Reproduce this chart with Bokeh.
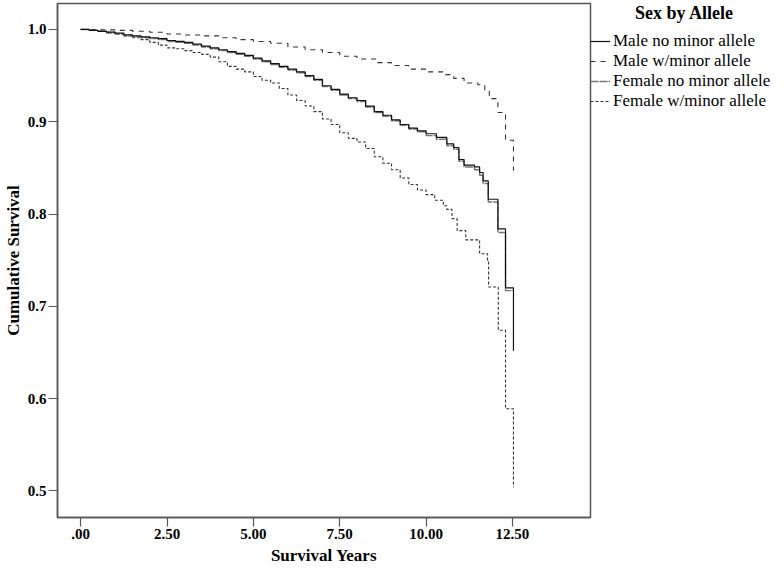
from bokeh.plotting import figure
from bokeh.models import Legend, LegendItem, Range1d, FixedTicker
from bokeh.embed import file_html
from bokeh.resources import INLINE

# ---- data (Kaplan-Meier step curves) ----
male_no_t = [0.0, 0.25, 0.5, 0.75, 1.0, 1.25, 1.5, 1.75, 2.0, 2.25, 2.5, 2.75, 3.0, 3.25, 3.5, 3.75, 4.0,
             4.25, 4.5, 4.75, 5.0, 5.25, 5.5, 5.75, 6.0, 6.25, 6.5, 6.75, 7.0, 7.25, 7.5, 7.75, 8.0, 8.25,
             8.5, 8.75, 9.0, 9.25, 9.5, 9.75, 10.0, 10.3, 10.6, 10.8, 10.95, 11.1, 11.4, 11.55, 11.65, 11.8,
             12.08, 12.3, 12.53]
male_no_s = [1.0, 0.999, 0.998, 0.997, 0.996, 0.994, 0.993, 0.992, 0.991, 0.990, 0.988, 0.987, 0.986, 0.984,
             0.982, 0.980, 0.978, 0.976, 0.974, 0.972, 0.969, 0.966, 0.963, 0.960, 0.957, 0.954, 0.950, 0.946,
             0.939, 0.935, 0.930, 0.926, 0.923, 0.917, 0.911, 0.907, 0.902, 0.897, 0.893, 0.890, 0.887, 0.883,
             0.876, 0.872, 0.859, 0.853, 0.851, 0.845, 0.836, 0.816, 0.784, 0.720, 0.652]

female_no_t = [0.0, 0.25, 0.5, 0.75, 1.0, 1.25, 1.5, 1.75, 2.0, 2.25, 2.5, 2.75, 3.0, 3.25, 3.5, 3.75, 4.0,
               4.25, 4.5, 4.75, 5.0, 5.25, 5.5, 5.75, 6.0, 6.25, 6.5, 6.75, 7.0, 7.25, 7.5, 7.75, 8.0, 8.25,
               8.5, 8.75, 9.0, 9.25, 9.5, 9.75, 10.0, 10.3, 10.6, 10.8, 10.95, 11.1, 11.4, 11.55, 11.65, 11.8,
               12.08, 12.3, 12.53]
female_no_s = [1.0, 0.999, 0.998, 0.996, 0.995, 0.993, 0.992, 0.991, 0.990, 0.989, 0.987, 0.986, 0.985, 0.983,
               0.981, 0.979, 0.977, 0.975, 0.973, 0.971, 0.968, 0.965, 0.962, 0.959, 0.956, 0.953, 0.949, 0.945,
               0.938, 0.934, 0.929, 0.925, 0.922, 0.916, 0.910, 0.906, 0.901, 0.896, 0.892, 0.889, 0.885, 0.881,
               0.874, 0.870, 0.857, 0.851, 0.848, 0.842, 0.833, 0.813, 0.780, 0.717, 0.717]

male_w_t = [0.0, 0.5, 1.0, 1.5, 2.0, 2.5, 3.0, 3.5, 4.0, 4.5, 5.0, 5.5, 6.0, 6.5, 7.0, 7.5, 8.0, 8.6, 9.0,
            9.5, 10.0, 10.5, 10.8, 11.1, 11.5, 11.7, 11.83, 12.08, 12.3, 12.53]
male_w_s = [1.0, 0.9995, 0.999, 0.998, 0.997, 0.995, 0.994, 0.993, 0.991, 0.989, 0.987, 0.985, 0.981, 0.978,
            0.975, 0.971, 0.968, 0.964, 0.961, 0.957, 0.954, 0.951, 0.947, 0.942, 0.940, 0.933, 0.925, 0.910,
            0.880, 0.847]

female_w_t = [0.0, 0.25, 0.5, 0.75, 1.0, 1.25, 1.5, 1.75, 2.0, 2.25, 2.5, 2.75, 3.0, 3.25, 3.5, 3.75, 4.0,
              4.25, 4.5, 4.75, 5.0, 5.25, 5.5, 5.75, 6.0, 6.25, 6.5, 6.75, 7.0, 7.25, 7.5, 7.75, 8.0, 8.25,
              8.5, 8.75, 9.0, 9.25, 9.5, 9.75, 10.0, 10.25, 10.5, 10.6, 10.75, 10.9, 11.15, 11.55, 11.78, 11.81,
              12.09, 12.3, 12.53]
female_w_s = [1.0, 0.999, 0.998, 0.997, 0.995, 0.993, 0.991, 0.989, 0.986, 0.983, 0.980, 0.979, 0.977, 0.975,
              0.973, 0.970, 0.965, 0.960, 0.957, 0.954, 0.949, 0.945, 0.942, 0.936, 0.929, 0.923, 0.917, 0.911,
              0.903, 0.897, 0.888, 0.882, 0.878, 0.871, 0.862, 0.855, 0.848, 0.839, 0.832, 0.826, 0.821, 0.815,
              0.809, 0.805, 0.795, 0.782, 0.772, 0.757, 0.748, 0.721, 0.674, 0.589, 0.504]

series_names = ["Male no minor allele", "Male w/minor allele", "Female no minor allele", "Female w/minor allele"]
legend_title = "Sex by Allele"

x_ticks = [0.0, 2.5, 5.0, 7.5, 10.0, 12.5]
x_tick_labels = [".00", "2.50", "5.00", "7.50", "10.00", "12.50"]
y_ticks = [0.5, 0.6, 0.7, 0.8, 0.9, 1.0]
y_tick_labels = ["0.5", "0.6", "0.7", "0.8", "0.9", "1.0"]

FONT = "Liberation Serif"
FRAME_W = 533
FRAME_H = 514

p = figure(frame_width=FRAME_W, frame_height=FRAME_H, output_backend="svg", toolbar_location=None,
           x_range=Range1d(-0.67, 14.76), y_range=Range1d(0.4712, 1.0281),
           min_border_top=3, min_border_left=0, min_border_right=0, min_border_bottom=0)
p.background_fill_color = "white"
p.border_fill_color = "white"
p.outline_line_color = "#555555"
p.outline_line_width = 1.5
p.xgrid.visible = False
p.ygrid.visible = False

for ax in (p.xaxis[0], p.yaxis[0]):
    ax.axis_line_color = "#555555"
    ax.axis_line_width = 1.5
    ax.major_tick_line_color = "#555555"
    ax.major_tick_line_width = 1.2
    ax.major_tick_in = 0
    ax.major_tick_out = 9
    ax.minor_tick_line_color = None
    ax.major_label_text_font = FONT
    ax.major_label_text_font_style = "bold"
    ax.major_label_text_font_size = "15px"
    ax.major_label_text_color = "black"
    ax.axis_label_text_font = FONT
    ax.axis_label_text_font_style = "bold"
    ax.axis_label_text_font_size = "17px"
    ax.axis_label_text_color = "black"
    ax.major_label_standoff = 2
    ax.axis_label_standoff = 2
p.xaxis.axis_label_standoff = 4

p.xaxis.ticker = FixedTicker(ticks=x_ticks)
p.xaxis.major_label_overrides = {t: l for t, l in zip(x_ticks, x_tick_labels)}
p.yaxis.ticker = FixedTicker(ticks=y_ticks)
p.yaxis.major_label_overrides = {t: l for t, l in zip(y_ticks, y_tick_labels)}
p.xaxis.axis_label = "Survival Years"
p.yaxis.axis_label = "Cumulative Survival"

r_fw = p.step(female_w_t, female_w_s, mode="after", line_color="#333333", line_width=1.1, line_dash="3 2")
r_mw = p.step(male_w_t, male_w_s, mode="after", line_color="#333333", line_width=1.1, line_dash="5 5")
r_fn = p.step(female_no_t, female_no_s, mode="after", line_color="#777777", line_width=1.4, line_dash="8 1")
r_mn = p.step(male_no_t, male_no_s, mode="after", line_color="#111111", line_width=1.2)

items = [LegendItem(label=series_names[0], renderers=[r_mn]),
         LegendItem(label=series_names[1], renderers=[r_mw]),
         LegendItem(label=series_names[2], renderers=[r_fn]),
         LegendItem(label=series_names[3], renderers=[r_fw])]
legend = Legend(items=items, location="top_left", margin=0, padding=4, spacing=0,
                title="\u00a0" * 10 + legend_title, title_text_font=FONT, title_text_font_style="bold",
                title_text_font_size="18px", title_text_color="black", title_standoff=7,
                glyph_width=20, glyph_height=20, label_height=20, label_standoff=3,
                label_text_font=FONT, label_text_font_size="17px", label_text_color="black",
                border_line_color=None, background_fill_alpha=0)
p.add_layout(legend, "right")

open("out.html", "w").write(file_html(p, INLINE))
